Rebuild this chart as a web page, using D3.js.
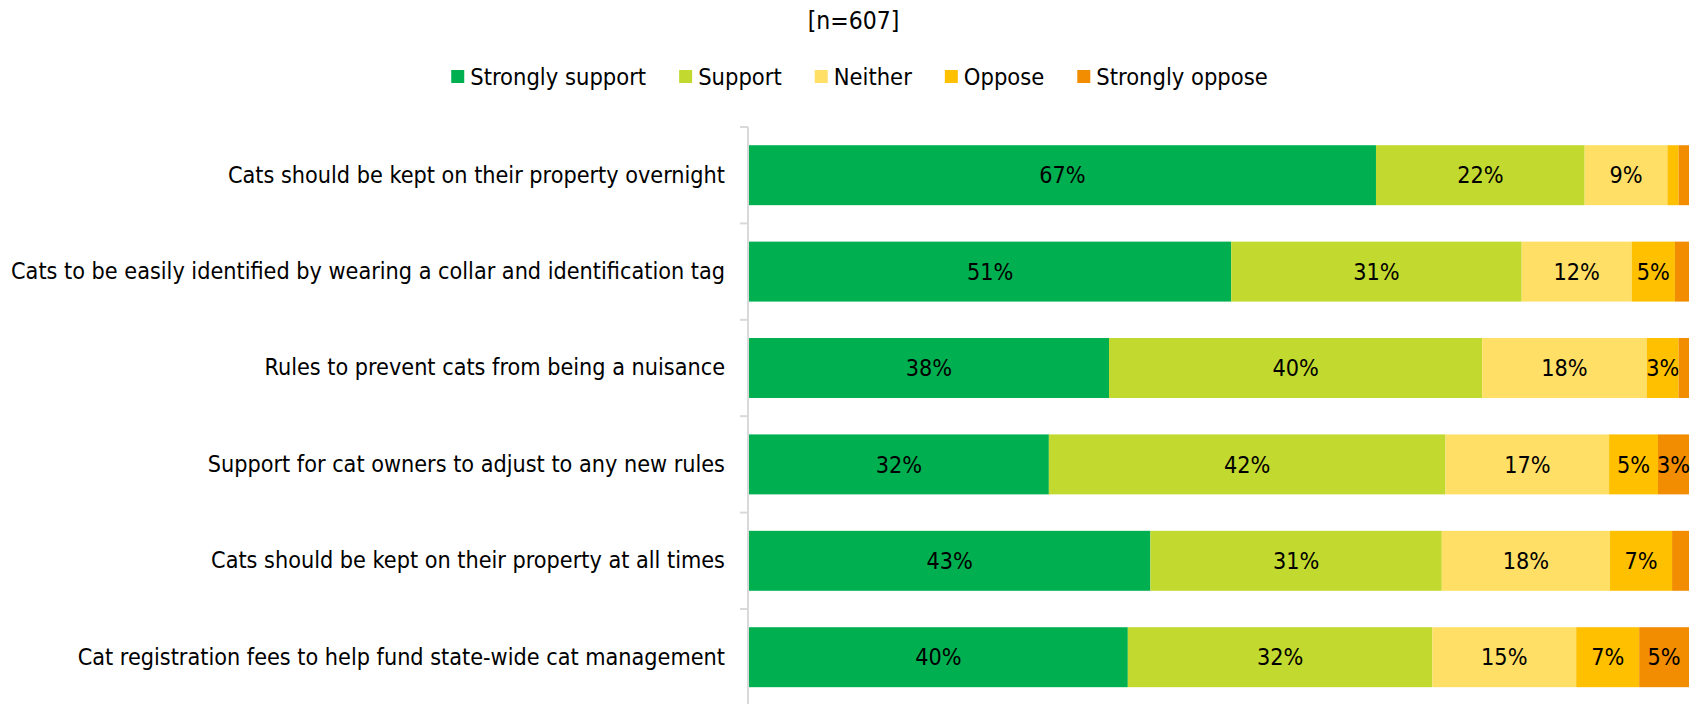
<!DOCTYPE html>
<html>
<head>
<meta charset="utf-8">
<script src="https://cdn.jsdelivr.net/npm/d3@7"></script>
<style>
  body { margin: 0; background: #fff; }
  svg text { font-family: "DejaVu Sans Condensed", "DejaVu Sans", sans-serif; fill: #000; }
</style>
</head>
<body>
<svg id="chart" width="1703" height="704"></svg>
<script>
// statements, top to bottom
var statements = [
    "Cats should be kept on their property overnight",
    "Cats to be easily identified by wearing a collar and identification tag",
    "Rules to prevent cats from being a nuisance",
    "Support for cat owners to adjust to any new rules",
    "Cats should be kept on their property at all times",
    "Cat registration fees to help fund state-wide cat management"
];

var responses = ["Strongly support", "Support", "Neither", "Oppose", "Strongly oppose"];
var colours = ["#00B050", "#C2D92F", "#FFDF66", "#FFC000", "#F28C00"];

// percent per response, one array per response, same order as statements
var stronglySupport = [66.7, 51.3, 38.3, 31.9, 42.7, 40.3];
var support         = [22.2, 30.9, 39.7, 42.2, 31.0, 32.4];
var neither         = [8.8, 11.7, 17.5, 17.4, 17.9, 15.3];
var oppose          = [1.2, 4.6, 3.4, 5.2, 6.6, 6.7];
var stronglyOppose  = [1.1, 1.5, 1.1, 3.3, 1.8, 5.3];

var sampleLabel = "[n=607]";

var W = 1703, H = 704;
var svg = d3.select("#chart");

var series = [stronglySupport, support, neither, oppose, stronglyOppose];

// build rows for d3.stack
var rows = statements.map(function (s, i) {
    var r = {name: s};
    responses.forEach(function (k, j) { r[k] = series[j][i]; });
    return r;
});
var stacked = d3.stack().keys(responses)(rows);

var x = d3.scaleLinear().domain([0, 100]).range([749, 1689]);
var y = d3.scaleBand().domain(statements).range([127, 705.4])
    .paddingInner(0.378).paddingOuter(0.189);

// title
svg.append("text")
    .attr("x", W / 2 + 2).attr("y", 29)
    .attr("text-anchor", "middle")
    .style("font-size", "24.5px")
    .text(sampleLabel);

// legend
var legend = svg.append("g").attr("class", "legend");
var lx = 0;
responses.forEach(function (r, i) {
    var g = legend.append("g").attr("transform", "translate(" + lx + ",0)");
    g.append("rect").attr("x", 0).attr("y", -7).attr("width", 13).attr("height", 13)
        .attr("fill", colours[i]);
    var t = g.append("text").attr("x", 19).attr("y", 0).attr("dy", "0.35em")
        .style("font-size", "23.5px").text(r);
    lx += 19 + t.node().getComputedTextLength() + 33;
});
lx -= 33;
legend.attr("transform", "translate(" + (W / 2 + 8 - lx / 2) + ",77)");

// axis: category labels
var axis = svg.append("g")
    .attr("transform", "translate(748,0)")
    .call(d3.axisLeft(y).tickSize(0).tickPadding(23));
axis.select(".domain").remove();
axis.selectAll("text").style("font-size", "23.2px").style("font-family", "'DejaVu Sans Condensed', 'DejaVu Sans', sans-serif");

// axis line and boundary ticks
var grey = "#D9D9D9";
svg.append("line").attr("x1", 748).attr("x2", 748)
    .attr("y1", y.range()[0]).attr("y2", H)
    .attr("stroke", grey).attr("stroke-width", 2);
var bounds = statements.map(function (s) { return y(s) - y.step() * y.paddingInner() / 2; });
bounds.push(bounds[bounds.length - 1] + y.step());
svg.append("g").selectAll("line").data(bounds).enter().append("line")
    .attr("x1", 740).attr("x2", 748)
    .attr("y1", function (d) { return d; }).attr("y2", function (d) { return d; })
    .attr("stroke", grey).attr("stroke-width", 2);

// bars
var layer = svg.append("g").selectAll("g").data(stacked).enter().append("g")
    .attr("fill", function (d, i) { return colours[i]; });

layer.selectAll("rect").data(function (d) { return d; }).enter().append("rect")
    .attr("x", function (d) { return x(d[0]); })
    .attr("width", function (d) { return x(d[1]) - x(d[0]); })
    .attr("y", function (d) { return y(d.data.name); })
    .attr("height", y.bandwidth());

// value labels (small slices are left unlabelled)
layer.selectAll("text").data(function (d) { return d; }).enter()
    .filter(function (d) { return d[1] - d[0] >= 2.5; })
    .append("text")
    .attr("x", function (d) { return (x(d[0]) + x(d[1])) / 2; })
    .attr("y", function (d) { return y(d.data.name) + y.bandwidth() / 2; })
    .attr("dy", "0.35em")
    .attr("text-anchor", "middle")
    .style("font-size", "23.2px")
    .text(function (d) { return Math.round(d[1] - d[0]) + "%"; });
</script>
</body>
</html>
